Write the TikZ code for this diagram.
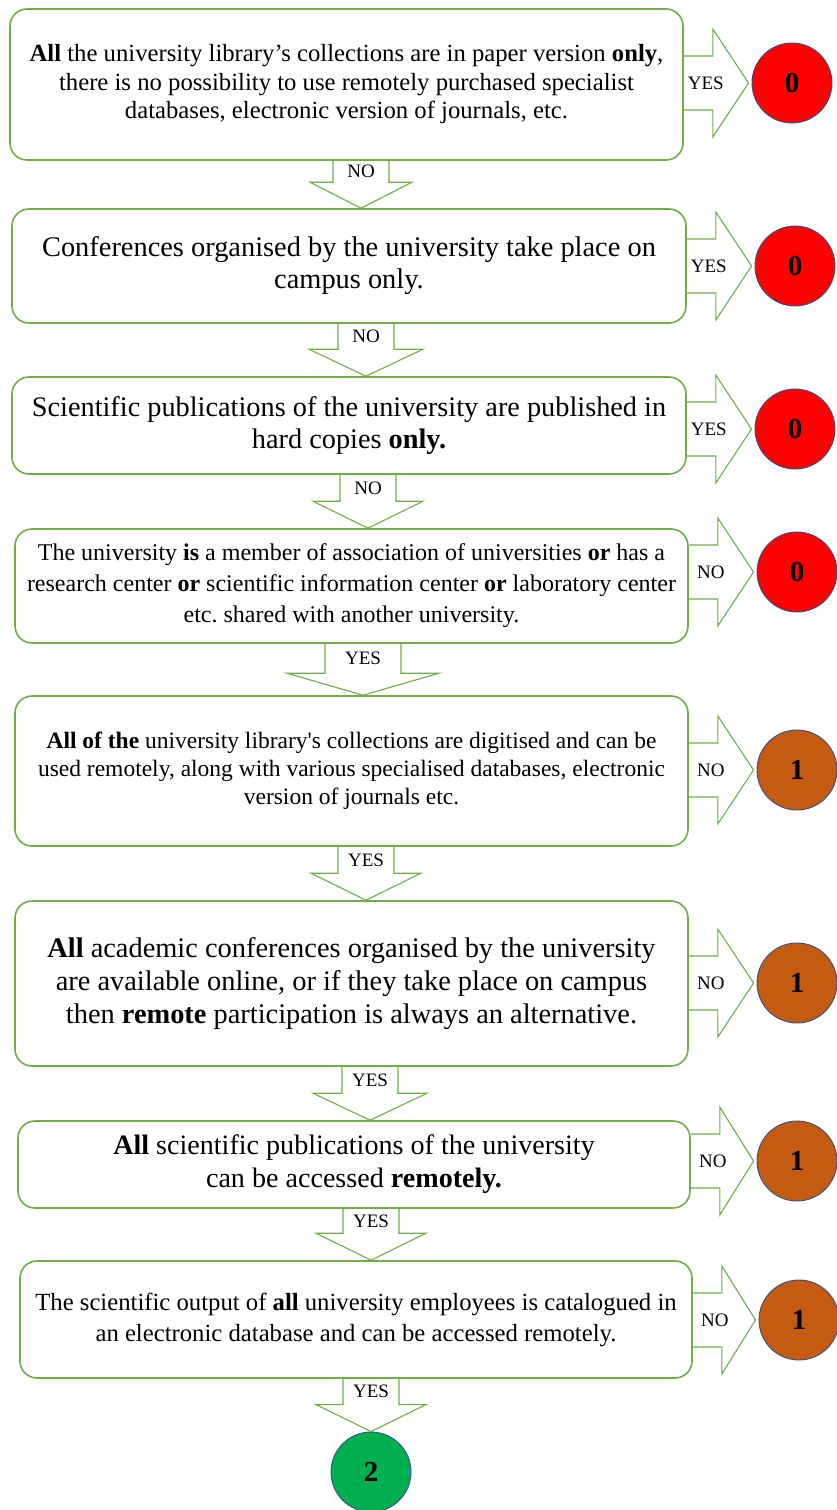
\documentclass[tikz,border=0pt]{standalone}
\usepackage{fontspec}
\setmainfont{Liberation Serif}
\usetikzlibrary{calc}

\definecolor{boxgreen}{HTML}{70AD47}
\definecolor{circblue}{HTML}{2F528F}
\definecolor{zeroRed}{HTML}{FF0000}
\definecolor{oneBrown}{HTML}{C55A11}
\definecolor{twoGreen}{HTML}{00B050}

\tikzset{
  qbox/.style={draw=boxgreen, line width=1.6pt, rounded corners=17pt,
    inner sep=0pt, align=center},
  blockarrow/.style={draw=boxgreen, line width=1.1pt, line join=miter},
  outcome/.style={circle, draw=circblue, line width=0.9pt, minimum size=80pt,
    inner sep=0pt, font=\fontsize{29}{29}\selectfont\bfseries},
  lbl/.style={font=\fontsize{19}{20}\selectfont, inner sep=0pt},
}

% block arrow from a question box to its outcome circle
\newcommand\sidearrow[3]{%
  \coordinate (sa) at (#1.east |- #2.west);
  \coordinate (sb) at ($(#2.west)+(-3,0)$);
  \draw[blockarrow] ($(sa)+(0,-27)$) -- ($(sa)+(29,-27)$) -- ($(sa)+(29,-54)$)
    -- (sb) -- ($(sa)+(29,54)$) -- ($(sa)+(29,27)$) -- ($(sa)+(0,27)$);
  \node[lbl] at ($(sa)+(22,0)$) {#3};
}

% block arrow from one box down to the next
% #1 source, #2 target, #3 x, #4 label, #5 shaft half width, #6 head half width, #7 head length
\newcommand\flowdown[7]{%
  \coordinate (da) at (#3,0 |- #1.south);
  \coordinate (db) at (#3,0 |- #2.north);
  \coordinate (dc) at ($(db)+(0,-#7)$);
  \draw[blockarrow] ($(da)+(-#5,0)$) -- ($(dc)+(-#5,0)$) -- ($(dc)+(-#6,0)$)
    -- (db) -- ($(dc)+(#6,0)$) -- ($(dc)+(#5,0)$) -- ($(da)+(#5,0)$);
  \node[lbl] at ($(da)!0.5!(dc)$) {#4};
}

\begin{document}
\begin{tikzpicture}[x=1pt, y=-1pt]
\useasboundingbox (0,0) rectangle (836,1510);

% question boxes
\node[qbox, minimum width=673pt, minimum height=151pt,
  font=\fontsize{24.7}{28.5}\selectfont] (b1) at (346.5,84.5)
  {\textbf{All} the university library’s collections are in paper version \textbf{only},\\
   there is no possibility to use remotely purchased specialist\\
   databases, electronic version of journals, etc.};

\node[qbox, minimum width=674pt, minimum height=114pt,
  font=\fontsize{28.4}{32}\selectfont] (b2) at (349,266)
  {Conferences organised by the university take place on\\ campus only.};

\node[qbox, minimum width=674pt, minimum height=97pt,
  font=\fontsize{28.3}{32}\selectfont] (b3) at (349,425.5)
  {Scientific publications of the university are published in\\
   hard copies \textbf{only.}};

\node[qbox, minimum width=673pt, minimum height=114pt,
  font=\fontsize{24}{31}\selectfont] (b4) at (351.5,586)
  {The university \textbf{is} a member of association of universities \textbf{or} has a\\
   research center \textbf{or} scientific information center \textbf{or} laboratory center\\
   etc.\ shared with another university.};

\node[qbox, minimum width=673pt, minimum height=150pt,
  font=\fontsize{23.5}{28}\selectfont] (b5) at (351.5,771)
  {\textbf{All of the} university library\textquotesingle s collections are digitised and can be\\
   used remotely, along with various specialised databases, electronic\\
   version of journals etc.};

\node[qbox, minimum width=673pt, minimum height=165pt,
  font=\fontsize{28.4}{33}\selectfont] (b6) at (351.5,983.5)
  {\textbf{All} academic conferences organised by the university\\
   are available online, or if they take place on campus\\
   then \textbf{remote} participation is always an alternative.};

\node[qbox, minimum width=672pt, minimum height=87pt,
  font=\fontsize{28.1}{33}\selectfont] (b7) at (354,1164.5)
  {\textbf{All} scientific publications of the university\\
   can be accessed \textbf{remotely.}};

\node[qbox, minimum width=672pt, minimum height=117pt,
  font=\fontsize{24.7}{31}\selectfont] (b8) at (356,1319.5)
  {The scientific output of \textbf{all} university employees is catalogued in\\
   an electronic database and can be accessed remotely.};

% outcome circles
\node[outcome, fill=zeroRed]   (c1) at (792,83)   {0};
\node[outcome, fill=zeroRed]   (c2) at (795,266)  {0};
\node[outcome, fill=zeroRed]   (c3) at (795,429)  {0};
\node[outcome, fill=zeroRed]   (c4) at (797,572)  {0};
\node[outcome, fill=oneBrown]  (c5) at (797,770)  {1};
\node[outcome, fill=oneBrown]  (c6) at (797,983)  {1};
\node[outcome, fill=oneBrown]  (c7) at (797,1161) {1};
\node[outcome, fill=oneBrown]  (c8) at (799,1320) {1};
\node[outcome, fill=twoGreen]  (c9) at (371,1472) {2};

% side arrows
\sidearrow{b1}{c1}{YES}
\sidearrow{b2}{c2}{YES}
\sidearrow{b3}{c3}{YES}
\sidearrow{b4}{c4}{NO}
\sidearrow{b5}{c5}{NO}
\sidearrow{b6}{c6}{NO}
\sidearrow{b7}{c7}{NO}
\sidearrow{b8}{c8}{NO}

% downward arrows
\flowdown{b1}{b2}{361}{NO}{28}{51}{26}
\flowdown{b2}{b3}{366}{NO}{28}{57}{27}
\flowdown{b3}{b4}{368}{NO}{28}{55}{27}
\flowdown{b4}{b5}{363}{YES}{38}{76}{22}
\flowdown{b5}{b6}{366}{YES}{28}{55}{27}
\flowdown{b6}{b7}{370}{YES}{28}{57}{27}
\flowdown{b7}{b8}{371}{YES}{28}{55}{27}
\flowdown{b8}{c9}{371}{YES}{28}{55}{27}
\end{tikzpicture}
\end{document}
